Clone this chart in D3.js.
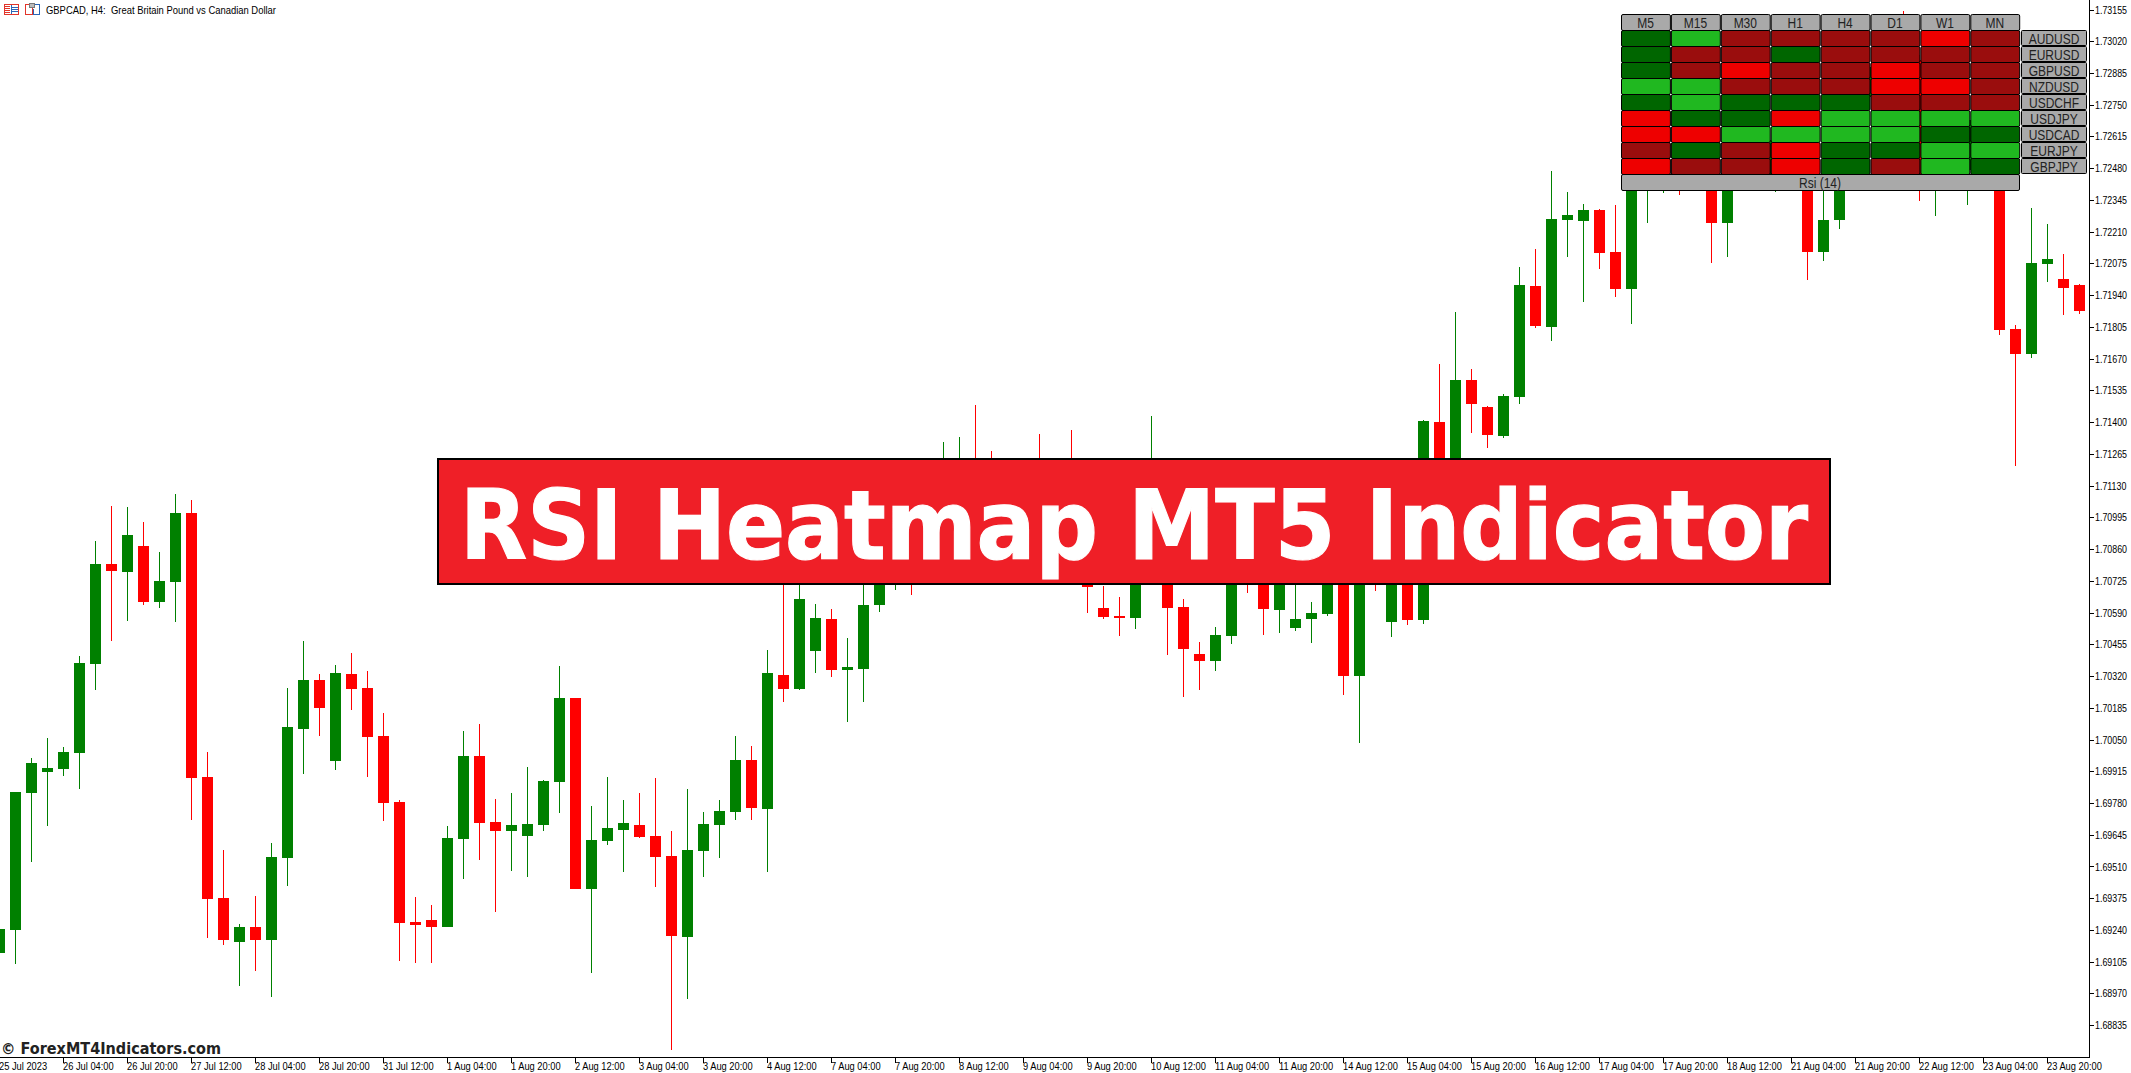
<!DOCTYPE html>
<html>
<head>
<meta charset="utf-8">
<script src="https://cdn.jsdelivr.net/npm/d3@7/dist/d3.min.js"></script>
<style>
html,body{margin:0;padding:0;background:#fff;overflow:hidden}
svg{display:block}
text{white-space:pre}
</style>
</head>
<body>
<svg id="chart" width="2131" height="1073"></svg>
<script>
const opens=[1.69144,1.69242,1.69825,1.69914,1.69927,1.69995,1.70373,1.70799,1.70765,1.70875,1.70637,1.70722,1.71015,1.69893,1.69378,1.69191,1.69255,1.69199,1.69548,1.70097,1.70305,1.69961,1.70331,1.70271,1.70067,1.69786,1.69276,1.69284,1.69255,1.69629,1.69982,1.69701,1.69663,1.69642,1.69689,1.69872,1.70229,1.69416,1.69621,1.69667,1.69689,1.69642,1.69557,1.69212,1.69578,1.69689,1.69744,1.69965,1.69757,1.70327,1.70267,1.70429,1.70565,1.70348,1.70352,1.70624,1.70773,1.70901,1.70858,1.70901,1.70986,1.71113,1.70943,1.70816,1.70943,1.70986,1.70858,1.71028,1.70943,1.70611,1.70577,1.70569,1.70901,1.70901,1.70616,1.70416,1.70386,1.70492,1.70901,1.70773,1.70603,1.70526,1.70565,1.70586,1.70986,1.70322,1.71071,1.70552,1.71028,1.70560,1.71403,1.70986,1.71581,1.71466,1.71343,1.71509,1.71981,1.71807,1.72262,1.72258,1.72304,1.72126,1.71968,1.72411,1.72517,1.72687,1.72432,1.72560,1.72249,1.72645,1.72687,1.72453,1.72645,1.72517,1.72126,1.72262,1.72602,1.72785,1.72942,1.73027,1.72942,1.72474,1.72474,1.72474,1.72687,1.72602,1.71798,1.71692,1.72075,1.72011,1.71985];
const highs=[1.69263,1.69829,1.69974,1.70059,1.70020,1.70407,1.70896,1.71045,1.71041,1.70977,1.70850,1.71096,1.71071,1.69999,1.69582,1.69267,1.69387,1.69612,1.70271,1.70471,1.70331,1.70369,1.70420,1.70344,1.70165,1.69795,1.69382,1.69348,1.69684,1.70088,1.70118,1.69799,1.69825,1.69935,1.69880,1.70365,1.70229,1.69769,1.69893,1.69795,1.69825,1.69888,1.69663,1.69842,1.69744,1.69795,1.70067,1.70025,1.70433,1.70773,1.70752,1.70628,1.70607,1.70484,1.70773,1.70879,1.70986,1.71028,1.71071,1.71318,1.71339,1.71475,1.71279,1.71198,1.71156,1.71352,1.71156,1.71369,1.71156,1.70705,1.70658,1.71071,1.71428,1.71113,1.70650,1.70467,1.70531,1.70986,1.71071,1.70943,1.71071,1.70943,1.70637,1.70986,1.71113,1.71156,1.71198,1.71198,1.71156,1.71411,1.71649,1.71871,1.71628,1.71471,1.71522,1.72062,1.72138,1.72470,1.72381,1.72330,1.72309,1.72326,1.72687,1.72602,1.72772,1.72815,1.72772,1.72772,1.72687,1.72730,1.72772,1.72687,1.72730,1.72687,1.72560,1.72645,1.72857,1.72985,1.73027,1.73151,1.72964,1.72772,1.72772,1.72815,1.72815,1.72645,1.71815,1.72313,1.72245,1.72117,1.71990];
const lows=[1.69114,1.69097,1.69531,1.69684,1.69897,1.69842,1.70263,1.70471,1.70556,1.70624,1.70611,1.70552,1.69710,1.69208,1.69178,1.69004,1.69068,1.68957,1.69429,1.69906,1.70067,1.69923,1.70178,1.69893,1.69706,1.69110,1.69102,1.69102,1.69255,1.69459,1.69540,1.69318,1.69493,1.69467,1.69663,1.69740,1.69416,1.69059,1.69604,1.69489,1.69633,1.69425,1.68732,1.68948,1.69467,1.69548,1.69710,1.69710,1.69489,1.70212,1.70263,1.70335,1.70318,1.70127,1.70212,1.70594,1.70688,1.70667,1.70752,1.70773,1.70858,1.70816,1.70773,1.70752,1.70773,1.70773,1.70773,1.70794,1.70590,1.70565,1.70492,1.70522,1.70816,1.70412,1.70233,1.70263,1.70344,1.70458,1.70675,1.70497,1.70505,1.70514,1.70463,1.70577,1.70242,1.70037,1.70684,1.70488,1.70539,1.70543,1.70816,1.70816,1.71356,1.71292,1.71335,1.71479,1.71802,1.71747,1.72104,1.71913,1.72053,1.71934,1.71819,1.72249,1.72377,1.72368,1.72398,1.72079,1.72104,1.72411,1.72432,1.72381,1.72411,1.72007,1.72087,1.72223,1.72517,1.72645,1.72730,1.72772,1.72343,1.72279,1.72411,1.72326,1.72411,1.71773,1.71216,1.71675,1.71998,1.71858,1.71862];
const closes=[1.69246,1.69829,1.69952,1.69931,1.69999,1.70378,1.70799,1.70769,1.70922,1.70637,1.70726,1.71015,1.69888,1.69374,1.69199,1.69255,1.69199,1.69552,1.70105,1.70305,1.70186,1.70335,1.70267,1.70063,1.69782,1.69272,1.69263,1.69255,1.69633,1.69982,1.69697,1.69663,1.69689,1.69693,1.69876,1.70229,1.69416,1.69625,1.69676,1.69697,1.69638,1.69552,1.69216,1.69582,1.69693,1.69748,1.69965,1.69761,1.70335,1.70267,1.70650,1.70569,1.70348,1.70361,1.70624,1.70794,1.70922,1.70816,1.70986,1.71071,1.71113,1.70943,1.70858,1.70986,1.70816,1.70858,1.71028,1.70901,1.70701,1.70573,1.70569,1.70901,1.71071,1.70611,1.70437,1.70386,1.70497,1.70773,1.70773,1.70607,1.70901,1.70565,1.70590,1.70901,1.70322,1.70986,1.70773,1.71028,1.70560,1.71407,1.70943,1.71581,1.71479,1.71347,1.71513,1.71985,1.71811,1.72266,1.72283,1.72304,1.72121,1.71968,1.72560,1.72474,1.72645,1.72474,1.72645,1.72249,1.72517,1.72474,1.72496,1.72602,1.72474,1.72126,1.72262,1.72560,1.72772,1.72913,1.72815,1.72900,1.72453,1.72645,1.72645,1.72687,1.72517,1.71794,1.71692,1.72079,1.72096,1.71973,1.71875];

const priceTicks=[1.73155,1.73020,1.72885,1.72750,1.72615,1.72480,1.72345,1.72210,1.72075,1.71940,1.71805,1.71670,1.71535,1.71400,1.71265,1.71130,1.70995,1.70860,1.70725,1.70590,1.70455,1.70320,1.70185,1.70050,1.69915,1.69780,1.69645,1.69510,1.69375,1.69240,1.69105,1.68970,1.68835];
const dateLabels=["25 Jul 2023","26 Jul 04:00","26 Jul 20:00","27 Jul 12:00","28 Jul 04:00","28 Jul 20:00","31 Jul 12:00","1 Aug 04:00","1 Aug 20:00","2 Aug 12:00","3 Aug 04:00","3 Aug 20:00","4 Aug 12:00","7 Aug 04:00","7 Aug 20:00","8 Aug 12:00","9 Aug 04:00","9 Aug 20:00","10 Aug 12:00","11 Aug 04:00","11 Aug 20:00","14 Aug 12:00","15 Aug 04:00","15 Aug 20:00","16 Aug 12:00","17 Aug 04:00","17 Aug 20:00","18 Aug 12:00","21 Aug 04:00","21 Aug 20:00","22 Aug 12:00","23 Aug 04:00","23 Aug 20:00"];

const periods=["M5","M15","M30","H1","H4","D1","W1","MN"];
const pairs=["AUDUSD","EURUSD","GBPUSD","NZDUSD","USDCHF","USDJPY","USDCAD","EURJPY","GBPJPY"];
const heatStates=[
 ["dg","lg","dr","dr","dr","dr","r","dr"],
 ["dg","dr","dr","dg","dr","dr","dr","dr"],
 ["dg","dr","r","dr","dr","r","dr","dr"],
 ["lg","lg","dr","dr","dr","r","r","dr"],
 ["dg","lg","dg","dg","dg","dr","dr","dr"],
 ["r","dg","dg","r","lg","lg","lg","lg"],
 ["r","r","lg","lg","lg","lg","dg","dg"],
 ["dr","dg","dr","r","dg","dg","lg","lg"],
 ["r","dr","dr","r","dg","dr","lg","dg"]
];
const chartTitle="GBPCAD, H4:  Great Britain Pound vs Canadian Dollar";
const bannerText="RSI Heatmap MT5 Indicator";
const watermark="\u00A9 ForexMT4Indicators.com";
const indicatorName="Rsi (14)";

const svg=d3.select("#chart");
const bars=opens.map((o,i)=>({i,o,h:highs[i],l:lows[i],c:closes[i]}));
const x=d3.scaleLinear().domain([0,bars.length-1]).range([-0.5,2079.5]);
const y=d3.scaleLinear().domain([1.73155,1.68835]).range([10,1025.7]);
const candleColor=d=>d.c>=d.o?"#008000":"#ff0000";
const bodyW=11;

const candles=svg.append("g").attr("shape-rendering","crispEdges");
candles.selectAll("rect.w").data(bars).join("rect").attr("class","w")
 .attr("x",d=>x(d.i)-0.5).attr("width",1)
 .attr("y",d=>y(d.h)).attr("height",d=>Math.max(1,y(d.l)-y(d.h)))
 .attr("fill",candleColor);
candles.selectAll("rect.b").data(bars).join("rect").attr("class","b")
 .attr("x",d=>x(d.i)-bodyW/2).attr("width",bodyW)
 .attr("y",d=>y(Math.max(d.o,d.c))).attr("height",d=>Math.max(1,y(Math.min(d.o,d.c))-y(Math.max(d.o,d.c))))
 .attr("fill",candleColor);

/* condensed text: taller glyphs squeezed to the width they would have at a smaller size */
const axisFont="'Liberation Sans',Arial,sans-serif";
function condense(sel,baseSize,drawSize,ratio){
 sel.each(function(){
  const t=d3.select(this).attr("font-size",baseSize);
  const w=this.getComputedTextLength()*ratio;
  t.attr("font-size",drawSize).attr("textLength",w).attr("lengthAdjust","spacingAndGlyphs");
 });
}

/* axes */
const yAxis=svg.append("g").attr("transform","translate(2089.5,0)")
 .call(d3.axisRight(y).tickValues(priceTicks).tickFormat(d3.format(".5f")).tickSize(4).tickPadding(1).offset(0));
yAxis.select(".domain").remove();
yAxis.selectAll("line").attr("stroke","#000").attr("shape-rendering","crispEdges");
yAxis.selectAll("text").attr("font-family",axisFont).attr("font-size",11).attr("fill","#000")
 .attr("x",0).attr("transform","translate(5.5,0) scale(0.806,1)");

const tickIdx=dateLabels.map((_,k)=>k*4);
const xAxis=svg.append("g").attr("transform","translate(0,1057.5)")
 .call(d3.axisBottom(x).tickValues(tickIdx).tickFormat((_,k)=>dateLabels[k]).tickSize(5).tickPadding(0).offset(0));
xAxis.select(".domain").remove();
xAxis.selectAll("line").attr("stroke","#000").attr("shape-rendering","crispEdges");
xAxis.selectAll("text").attr("font-family",axisFont).attr("fill","#000")
 .attr("text-anchor","start").attr("x",-0.5).attr("y",5).attr("dy","0.72em")
 .call(condense,10,11,0.93);

svg.append("path").attr("d","M0,1057.5H2089.5V0").attr("fill","none").attr("stroke","#000").attr("shape-rendering","crispEdges");

/* heatmap panel */
const heatColor=d3.scaleOrdinal().domain(["dg","lg","dr","r"]).range(["#006600","#20b820","#9a0d0d","#ee0000"]);
const colB=d3.scaleBand().domain(periods).range([1621.5,2020.7]);
const rowB=d3.scaleBand().domain(pairs).range([30.5,174.5]);
const heat=svg.append("g");
const grey="#a9a9a9";
const hText=(sel)=>sel.attr("font-family",axisFont).attr("fill","#222")
 .attr("text-anchor","middle").attr("dominant-baseline","central").call(condense,12,14,1);

periods.forEach(p=>{
 heat.append("rect").attr("x",colB(p)).attr("y",14.5).attr("width",colB.bandwidth()-1).attr("height",16)
  .attr("rx",1.5).attr("fill",grey).attr("stroke","#000");
 heat.append("text").attr("x",colB(p)+24).attr("y",23).text(p).call(hText);
});
heatStates.forEach((row,r)=>row.forEach((s,c)=>{
 heat.append("rect").attr("x",colB(periods[c])).attr("y",rowB(pairs[r])).attr("width",colB.bandwidth()-1).attr("height",rowB.bandwidth())
  .attr("rx",1.5).attr("fill",heatColor(s)).attr("stroke","#000");
}));
pairs.forEach(p=>{
 heat.append("rect").attr("x",2021.5).attr("y",rowB(p)).attr("width",65).attr("height",rowB.bandwidth()-1)
  .attr("rx",1).attr("fill",grey).attr("stroke","#000");
 heat.append("text").attr("x",2054).attr("y",rowB(p)+8).text(p).call(hText);
});
heat.append("rect").attr("x",1621.5).attr("y",174.5).attr("width",398).attr("height",16)
 .attr("rx",1.5).attr("fill",grey).attr("stroke","#000");
heat.append("text").attr("x",1820).attr("y",183).text(indicatorName).call(hText);

/* banner */
svg.append("rect").attr("x",438).attr("y",459).attr("width",1392).attr("height",125)
 .attr("fill","#ef1f27").attr("stroke","#000").attr("stroke-width",2).attr("shape-rendering","crispEdges");
svg.append("text").attr("x",460).attr("y",559).text(bannerText)
 .attr("font-family","'DejaVu Sans',sans-serif").attr("font-weight","bold").attr("font-size",97)
 .attr("fill","#fff").attr("stroke","#fff").attr("stroke-width",1.2)
 .attr("textLength",1348).attr("lengthAdjust","spacingAndGlyphs");

/* watermark */
svg.append("text").attr("x",1).attr("y",1054).text(watermark)
 .attr("font-family","'DejaVu Sans',sans-serif").attr("font-weight","bold").attr("font-size",16)
 .attr("fill","#222").attr("textLength",220).attr("lengthAdjust","spacingAndGlyphs");

/* title + icons */
svg.append("text").attr("x",46).attr("y",14).text(chartTitle)
 .attr("font-family",axisFont).attr("font-size",11).attr("fill","#000")
 .attr("textLength",230).attr("lengthAdjust","spacingAndGlyphs");
const ic=svg.append("g").attr("shape-rendering","crispEdges").attr("fill","none");
ic.append("rect").attr("x",4.5).attr("y",4.5).attr("width",14).attr("height",10).attr("stroke","#e2352a");
ic.append("path").attr("d","M5,6.5H10M5,8.5H10M5,10.5H10M5,12.5H10").attr("stroke","#e2352a");
ic.append("path").attr("d","M11.5,5V14M12,7.5H18M12,9.5H18M12,11.5H18").attr("stroke","#2a66b8");
ic.append("path").attr("d","M25.5,4.5H32.5V14.5H25.5Z").attr("stroke","#e2352a");
ic.append("path").attr("d","M34.5,4.5H39.5V14.5H33.5V9").attr("stroke","#2a66b8");
ic.append("rect").attr("x",29.5).attr("y",3.5).attr("width",5).attr("height",4).attr("fill","#bbb").attr("stroke","#777");
</script>
</body>
</html>
